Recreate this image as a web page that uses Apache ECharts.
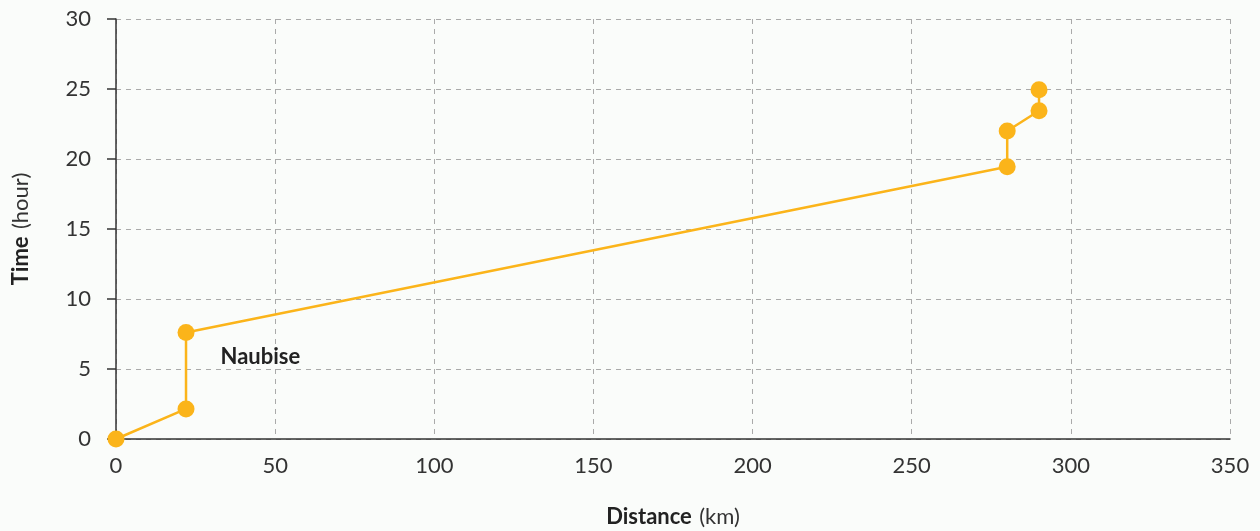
<!DOCTYPE html>
<html><head><meta charset="utf-8">
<script src="https://cdn.jsdelivr.net/npm/echarts@6/dist/echarts.min.js"></script>
<style>html,body{margin:0;padding:0;background:#fafcfa;}#c{width:1260px;height:531px;}</style>
</head><body><div id="c"></div>
<script>
const distances = [0, 22, 22, 280, 280, 290, 290];
const times = [0, 2.15, 7.6, 19.45, 22, 23.45, 24.95];
const labels = ['', '', 'Naubise', '', '', '', ''];
const xTicks = [0, 50, 100, 150, 200, 250, 300, 350];
const yTicks = [0, 5, 10, 15, 20, 25, 30];

const data = distances.map((d, i) => {
  const item = { value: [d, times[i]] };
  if (labels[i]) {
    item.label = { show: true, formatter: labels[i], position: 'right', offset: [21, 24],
      fontFamily: 'Lato', fontWeight: 'bold', fontSize: 22, color: '#222' };
  }
  return item;
});

const chart = echarts.init(document.getElementById('c'));
const font = 'Lato';
const nameRich = {
  b: { fontFamily: font, fontWeight: 'bold', fontSize: 22, color: '#222' },
  n: { fontFamily: font, fontSize: 22, color: '#333', padding: [0, 0, 0, 4] }
};
chart.setOption({
  backgroundColor: '#fafcfa',
  animation: false,
  grid: { left: 116, right: 30, top: 19, bottom: 92, outerBoundsMode: 'none', containLabel: false },
  xAxis: {
    type: 'value', min: xTicks[0], max: xTicks[xTicks.length - 1], interval: 50,
    name: '{b|Distance} {n|(km)}', nameLocation: 'middle', nameGap: 67,
    nameTextStyle: { rich: nameRich },
    axisLine: { lineStyle: { color: '#333', width: 1.5 } },
    axisTick: { show: false },
    axisLabel: { fontFamily: font, fontSize: 22, color: '#333', margin: 16 },
    splitLine: { lineStyle: { color: '#aaa', type: [5, 5] } }
  },
  yAxis: {
    type: 'value', min: yTicks[0], max: yTicks[yTicks.length - 1], interval: 5,
    name: '{b|Time} {n|(hour)}', nameLocation: 'middle', nameGap: 84, nameRotate: 90,
    nameTextStyle: { rich: nameRich },
    axisLine: { show: true, lineStyle: { color: '#333', width: 1.5 } },
    axisTick: { show: true, length: 9, lineStyle: { color: '#333', width: 1.5 } },
    axisLabel: { fontFamily: font, fontSize: 22, color: '#333', margin: 25 },
    splitLine: { lineStyle: { color: '#aaa', type: [5, 5] } }
  },
  series: [{
    type: 'line', data: data,
    symbol: 'circle', symbolSize: 17,
    lineStyle: { color: '#fbb41a', width: 2.5 },
    itemStyle: { color: '#fbb41a' }
  }]
});
</script></body></html>
